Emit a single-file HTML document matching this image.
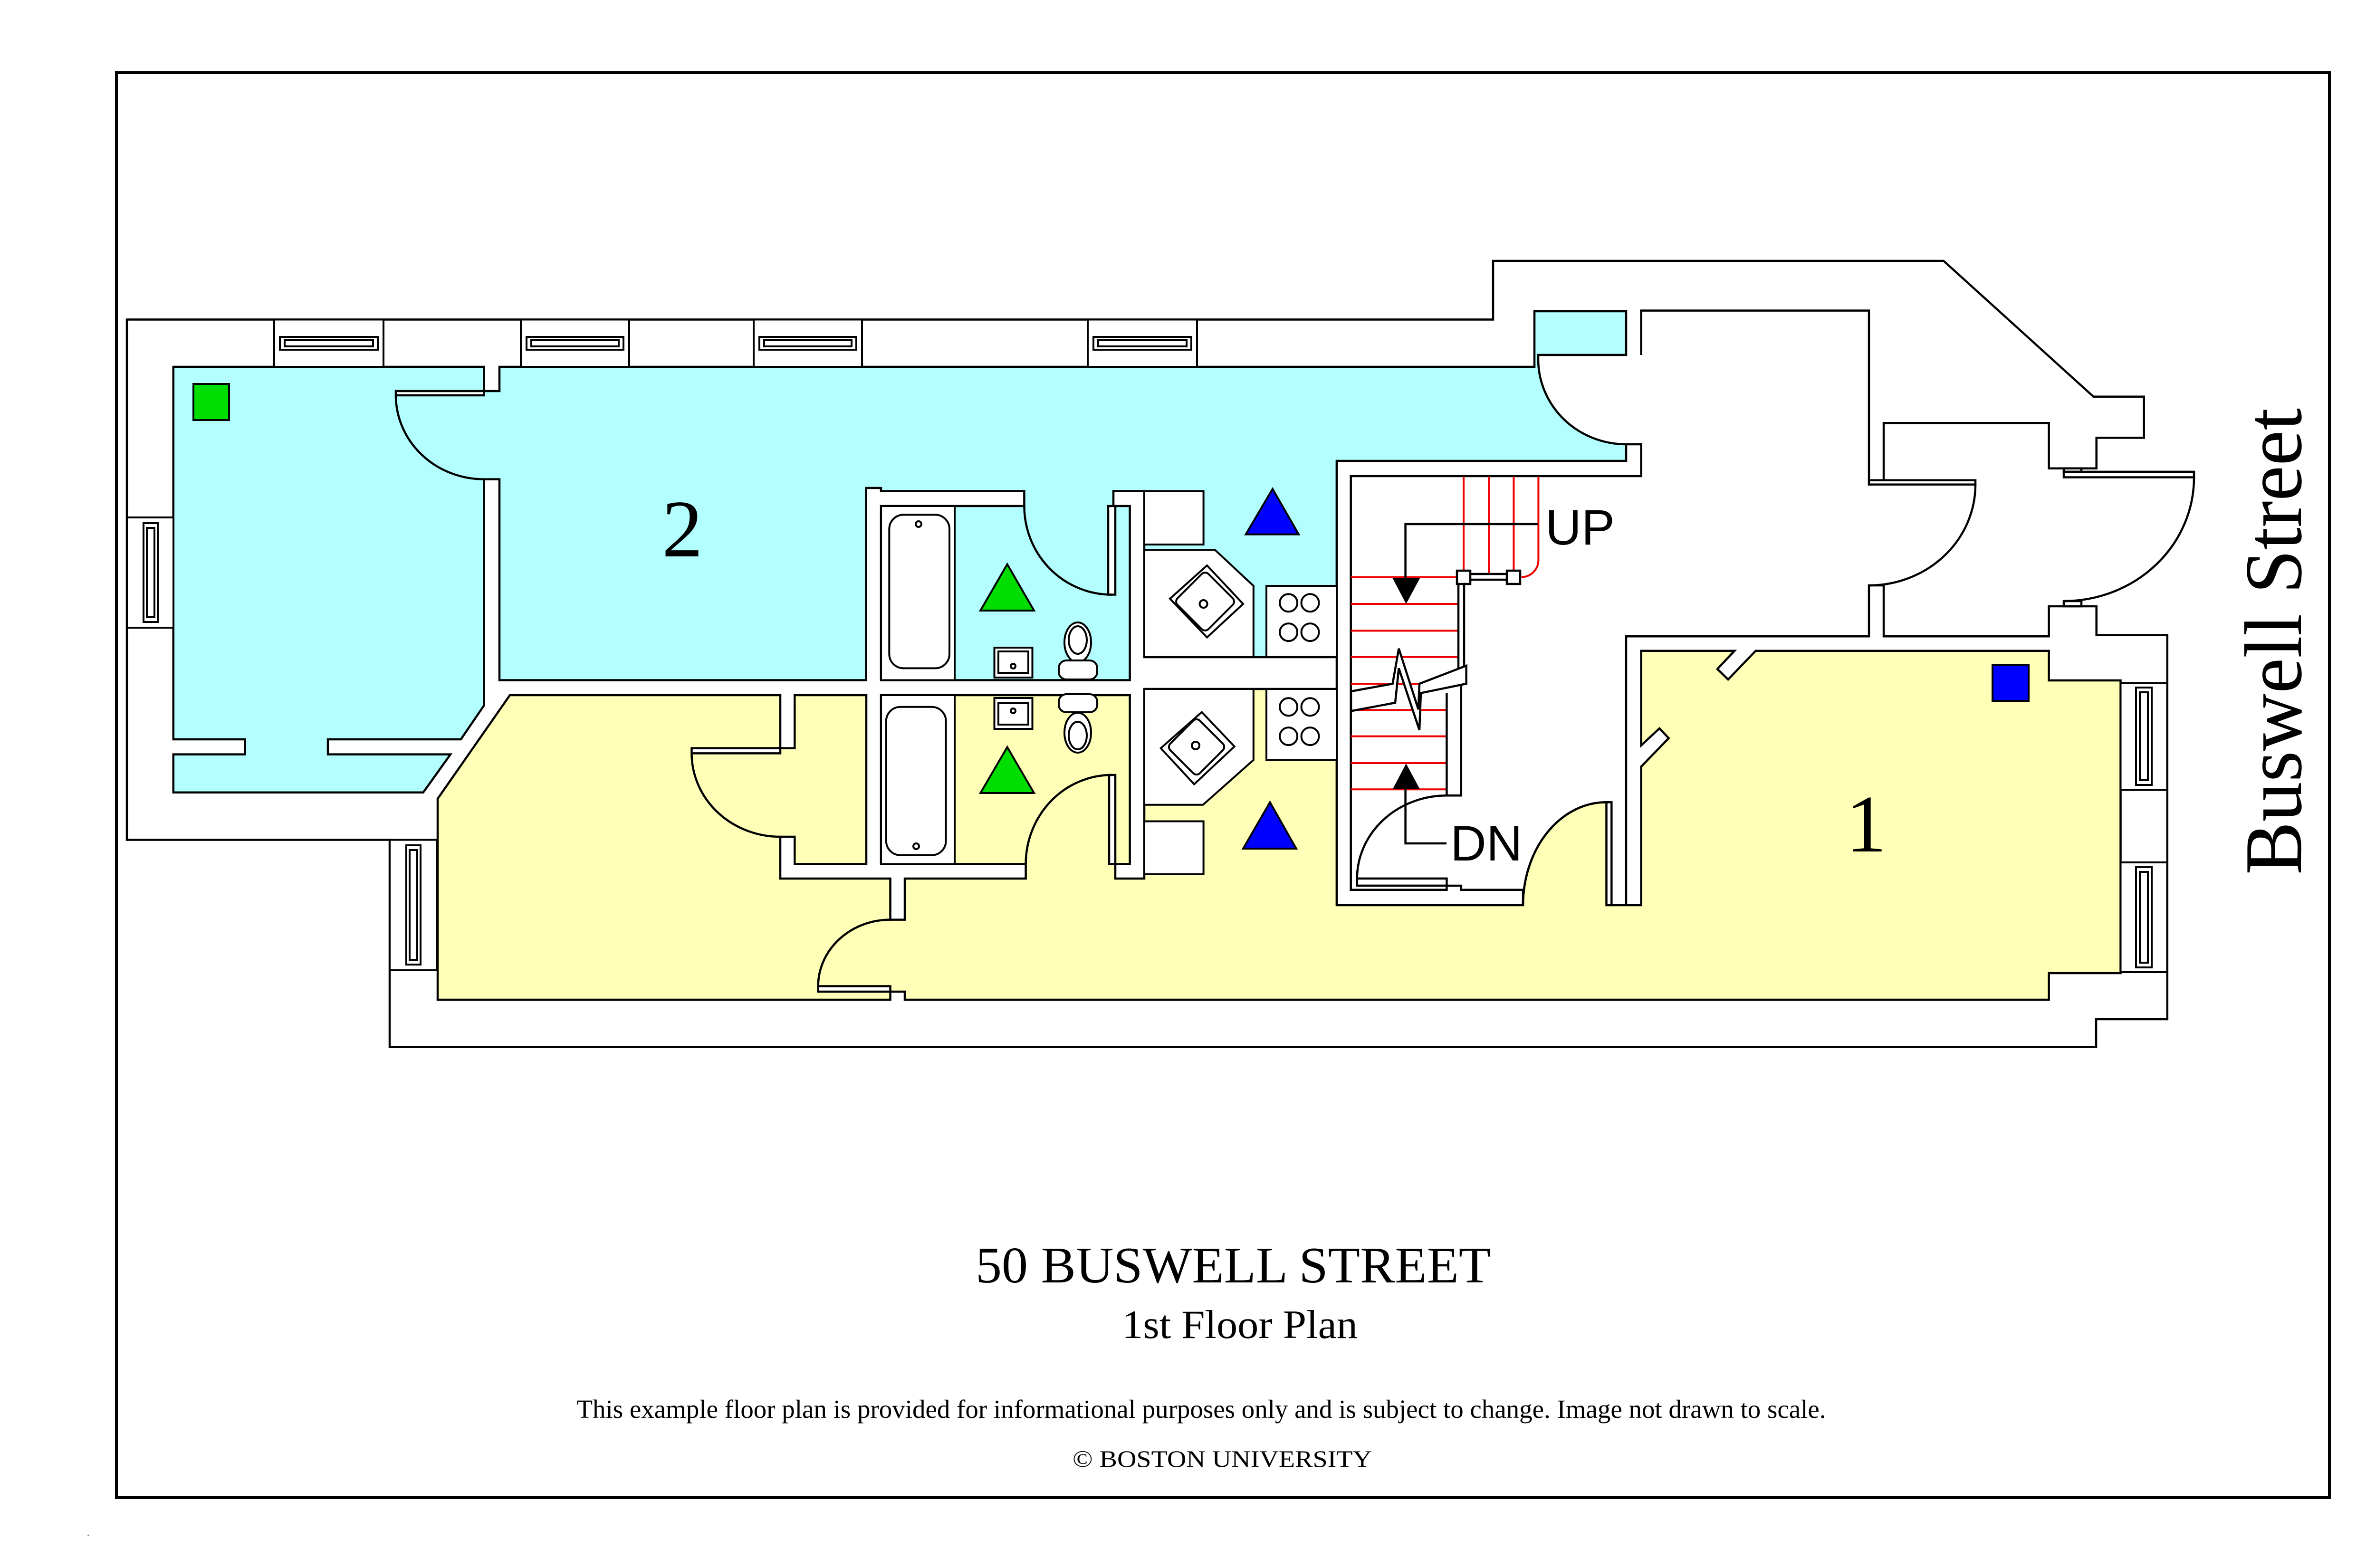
<!DOCTYPE html>
<html><head><meta charset="utf-8"><style>
html,body{margin:0;padding:0;background:#fff;}
svg{display:block;}
</style></head><body>
<svg width="5100" height="3300" viewBox="0 0 5100 3300" xmlns="http://www.w3.org/2000/svg">
<rect width="5100" height="3300" fill="#fff"/>
<rect x="245" y="153" width="4657" height="2999" fill="none" stroke="#000" stroke-width="6"/>

<g stroke="#000" stroke-width="4.5" stroke-linejoin="miter">
<!-- blue fill -->
<path fill="#b3ffff" d="M364.8,772 L1018.6,772 L1018.6,823 L1051,823 L1051,772 L3229,772 L3229,655 L3422,655 L3422,747 L3237,747 L3237,756 A185,179 0 0 0 3422,935 L3422,970 L2813,970 L2813,1383 L2408,1383 L2408,1033.5 L2343,1033.5 L2343,1065 L2377.6,1065 L2377.6,1431.5 L1854,1431.5 L1854,1065 L2155.4,1065 L2155.4,1033.5 L1854,1033.5 L1854,1027 L1822.5,1027 L1822.5,1431.5 L1051,1431.5 L1051,1008.6 L1018.6,1008.6 L1018.6,1484.6 L969.8,1556 L690,1556 L690,1587.6 L948,1587.6 L890.6,1667.8 L364.8,1667.8 L364.8,1587.6 L515.5,1587.6 L515.5,1556 L364.8,1556 Z"/>
<!-- yellow fill -->
<path fill="#ffffb8" d="M921,1681 L1073,1463 L1642,1463 L1642,1574.6 L1672.3,1574.6 L1672.3,1463 L1823,1463 L1823,1818.5 L1672.3,1818.5 L1672.3,1761 L1642,1761 L1642,1849 L1873.5,1849 L1873.5,1935.6 L1904,1935.6 L1904,1849 L2158.6,1849 L2158.6,1818.5 L1854,1818.5 L1854,1463 L2377.6,1463 L2377.6,1818.5 L2347,1818.5 L2347,1849 L2408,1849 L2408,1450 L2813,1450 L2813,1905 L3205,1905 A175,216.6 0 0 1 3380.5,1688.4 L3391,1688.4 L3391,1905 L3453.6,1905 L3453.6,1613.4 L3511.6,1553.6 L3492,1533 L3453.6,1568.8 L3453.6,1369.7 L3650,1369.7 L3614,1408 L3636.6,1430 L3694.6,1369.7 L4311.6,1369.7 L4311.6,1432 L4462.5,1432 L4462.5,2048 L4311.6,2048 L4311.6,2104 L1904,2104 L1904,2087 L1873.5,2087 L1873.5,2104 L921,2104 Z"/>
</g>

<g fill="none" stroke="#000" stroke-width="4.5">
<!-- outer building -->
<polyline points="3964,1010.7 3964,890.2 4311.6,890.2 4311.6,985.7 4411.7,985.7 4411.7,921.4 4511.7,921.4 4511.7,834.8 4405.4,834.8 4090,549 3142,549 3142,672.5 267,672.5 267,1767.5 820,1767.5 820,2203.4 4411,2203.4 4411,2145 4560.8,2145 4560.8,1336.6 4411.7,1336.6 4411.7,1276 4311.6,1276 4311.6,1339.3 3964,1339.3 3964,1232 3933,1232 3933,1339.3 3422,1339.3 3422,1905"/>
<polyline points="3453.6,747 3453.6,653.6 3933,653.6 3933,1010.7"/>
<polyline points="3422,935 3453.6,935 3453.6,1002 2842.7,1002 2842.7,1872.7 3044.4,1872.7 3044.4,1864 3074.8,1864 3074.8,1872.7 3205,1872.7 3205,1905"/>
<polyline points="2813,970 2813,1905"/>
<!-- hall doors -->
<rect x="3933" y="1010.7" width="224" height="9" fill="#fff"/>
<path d="M4157,1019.7 A224,212 0 0 1 3933,1232"/>
<rect x="4343" y="992.9" width="274" height="11.6" fill="#fff"/>
<rect x="4343" y="985.7" width="37" height="7.2"/>
<path d="M4617,1004.5 A274,260 0 0 1 4343,1265"/>
<rect x="4343" y="1265" width="37" height="11"/>
<!-- room1 door -->
<path d="M3205,1905 A175,216.6 0 0 1 3380.5,1688.4"/>
<rect x="3380.5" y="1688.4" width="10.8" height="216.6" fill="#fff"/>
<!-- room2 door -->
<rect x="833" y="823" width="185.6" height="9" fill="#fff"/>
<path d="M833,832 A185.6,176.6 0 0 0 1018.6,1008.6"/>
<!-- closet door -->
<rect x="1455.5" y="1574.6" width="186.5" height="10.8" fill="#fff"/>
<path d="M1455.5,1585.4 A186.5,175.6 0 0 0 1642,1761"/>
<!-- bottom door -->
<rect x="1721.7" y="2075.5" width="151.8" height="11.5" fill="#fff"/>
<path d="M1721.7,2075.5 A151.8,140 0 0 1 1873.5,1935.6"/>
<!-- bath doors -->
<rect x="2332" y="1065" width="15" height="186.5" fill="#fff"/>
<path d="M2155.4,1065 A184,186.5 0 0 0 2339.5,1251.5"/>
<rect x="2334" y="1631" width="13" height="187.5" fill="#fff"/>
<path d="M2158.6,1818.5 A181,187.5 0 0 1 2340,1631"/>
</g>

<!-- fixtures -->
<g fill="#fff" stroke="#000" stroke-width="4">
<rect x="1854" y="1065" width="155" height="366.5"/>
<rect x="1871.3" y="1083.4" width="126.7" height="323" rx="30"/>
<rect x="1854" y="1463" width="155" height="355.5"/>
<rect x="1864.8" y="1487.8" width="125.8" height="312" rx="30"/>
<circle cx="1933" cy="1103" r="6"/>
<circle cx="1928" cy="1781" r="6"/>
<rect x="2092.5" y="1363" width="80" height="63"/>
<rect x="2101" y="1371" width="63" height="45"/>
<circle cx="2132" cy="1402" r="5"/>
<rect x="2092.5" y="1469" width="80" height="65"/>
<rect x="2101" y="1480" width="63" height="45"/>
<circle cx="2132" cy="1496" r="5"/>
<ellipse cx="2268" cy="1352" rx="28" ry="42"/>
<ellipse cx="2268" cy="1347" rx="19" ry="29"/>
<rect x="2228" y="1390" width="81" height="40" rx="16"/>
<rect x="2228" y="1461" width="81" height="38" rx="16"/>
<ellipse cx="2268" cy="1542" rx="28" ry="42"/>
<ellipse cx="2268" cy="1548" rx="19" ry="29"/>
<!-- kitchen -->
<rect x="2408" y="1033.5" width="124.6" height="112.5"/>
<polygon points="2408,1157 2556.5,1157 2637.8,1233 2637.8,1382.7 2408,1382.7"/>
<rect x="2665" y="1233" width="148" height="149.7"/>
<polygon points="2408,1450 2637.8,1450 2637.8,1599.5 2531.5,1693.8 2408,1693.8"/>
<rect x="2665" y="1450" width="148" height="149.5"/>
<rect x="2408" y="1728.5" width="124.6" height="111.5"/>
<polygon points="2540,1190 2616,1271 2540,1341.5 2462,1260"/>
<rect x="2490" y="1220" width="92" height="92" rx="10" transform="rotate(45 2536 1266) scale(1)" />
<polygon points="2529,1498.7 2597.7,1571 2513,1650.5 2442.7,1574.6"/>
<rect x="2474" y="1528" width="88" height="88" rx="10" transform="rotate(45 2518 1572)"/>
<circle cx="2532.6" cy="1271" r="8"/>
<circle cx="2516" cy="1569" r="8"/>
<circle cx="2711.6" cy="1268.8" r="18.5"/><circle cx="2757" cy="1268.8" r="18.5"/>
<circle cx="2711.6" cy="1330.6" r="18.5"/><circle cx="2757" cy="1330.6" r="18.5"/>
<circle cx="2711.6" cy="1487.8" r="18.5"/><circle cx="2757" cy="1487.8" r="18.5"/>
<circle cx="2711.6" cy="1549.6" r="18.5"/><circle cx="2757" cy="1549.6" r="18.5"/>
</g>

<!-- windows -->
<g fill="#fff" stroke="#000" stroke-width="4">
<rect x="577" y="672.5" width="230" height="99.5"/><rect x="589" y="709" width="206" height="27"/><rect x="599" y="716" width="186" height="13"/>
<rect x="1096" y="672.5" width="228" height="99.5"/><rect x="1108" y="709" width="204" height="27"/><rect x="1118" y="716" width="184" height="13"/>
<rect x="1586" y="672.5" width="228" height="99.5"/><rect x="1598" y="709" width="204" height="27"/><rect x="1608" y="716" width="184" height="13"/>
<rect x="2289" y="672.5" width="230" height="99.5"/><rect x="2301" y="709" width="206" height="27"/><rect x="2311" y="716" width="186" height="13"/>
<rect x="267" y="1089" width="98" height="232"/><rect x="302" y="1101" width="30" height="208"/><rect x="309" y="1111" width="16" height="188"/>
<rect x="820" y="1767.5" width="99" height="274.5"/><rect x="855" y="1779" width="30" height="251"/><rect x="862" y="1789" width="16" height="231"/>
<rect x="4462.5" y="1437.5" width="98" height="225"/><rect x="4495" y="1447" width="33" height="205"/><rect x="4503" y="1457" width="17" height="185"/>
<rect x="4462.5" y="1815" width="98" height="231"/><rect x="4495" y="1825" width="33" height="211"/><rect x="4503" y="1835" width="17" height="191"/>
</g>

<!-- stairs -->
<g stroke="#e00" stroke-width="4" fill="none">
<line x1="2843" y1="1214.6" x2="3069" y2="1214.6"/><line x1="2843" y1="1271" x2="3069" y2="1271"/>
<line x1="2843" y1="1327.4" x2="3069" y2="1327.4"/><line x1="2843" y1="1382.7" x2="3069" y2="1382.7"/>
<line x1="2843" y1="1439" x2="3044" y2="1439"/><line x1="2843" y1="1494.3" x2="3044" y2="1494.3"/>
<line x1="2843" y1="1549.6" x2="3044" y2="1549.6"/><line x1="2843" y1="1606" x2="3044" y2="1606"/>
<line x1="2843" y1="1661.3" x2="3044" y2="1661.3"/>
<line x1="3080" y1="1003" x2="3080" y2="1214.6"/><line x1="3133.3" y1="1003" x2="3133.3" y2="1214.6"/>
<line x1="3185.4" y1="1003" x2="3185.4" y2="1214.6"/>
<path d="M3237.4,1003 V1178.8 A36,36 0 0 1 3201.6,1214.6"/>
</g>
<g stroke="#000" stroke-width="4.5" fill="#fff">
<polyline fill="none" points="3044.4,1458 3044.4,1674.3 3074.8,1674.3 3074.8,1420"/>
<rect x="3069" y="1229" width="12" height="180"/>
<polygon points="2843,1455 2930.6,1439 2943.6,1365 2984.8,1493 2987,1439 3085.6,1401 3085.6,1439 2990,1458.6 2987,1536.6 2943.6,1406.5 2936,1479 2843,1496.5"/>
<rect x="3086" y="1208" width="94" height="12"/>
<rect x="3066" y="1201" width="28" height="28"/>
<rect x="3171" y="1201" width="28" height="28"/>
<polyline fill="none" points="2957.6,1217 2957.6,1103 3237,1103"/>
<polyline fill="none" points="2957.6,1661 2957.6,1775 3044,1775"/>
<rect x="2855.7" y="1848.9" width="188.7" height="15" />
<path fill="none" d="M2855.7,1848.9 A188.7,175 0 0 1 3044.4,1674.3"/>
</g>
<polygon points="2930.6,1217 2988,1217 2959,1271" fill="#000"/>
<polygon points="2930.6,1661 2988,1661 2959,1607" fill="#000"/>
<text x="3252" y="1146" font-family="Liberation Sans, sans-serif" font-size="105" fill="#000">UP</text>
<text x="3052" y="1811" font-family="Liberation Sans, sans-serif" font-size="105" fill="#000">DN</text>

<!-- markers -->
<g stroke="#000" stroke-width="4">
<rect x="407" y="808" width="75" height="76" fill="#00dd00"/>
<rect x="4193" y="1399" width="76" height="76" fill="#0000ff"/>
<polygon points="2678,1029 2621.6,1124.6 2733,1124.6" fill="#0000ff"/>
<polygon points="2672.5,1688.4 2616,1786 2727.8,1786" fill="#0000ff"/>
<polygon points="2119.6,1187.5 2063.2,1285 2176,1285" fill="#00dd00"/>
<polygon points="2119.6,1572.4 2063.2,1669 2176,1669" fill="#00dd00"/>
</g>

<g font-family="Liberation Serif, serif" fill="#000">
<text x="1436" y="1171" font-size="172" text-anchor="middle">2</text>
<text x="3927" y="1792" font-size="172" text-anchor="middle">1</text>
<text transform="translate(4842,1350) rotate(-90)" font-size="172" text-anchor="middle" textLength="982" lengthAdjust="spacingAndGlyphs">Buswell Street</text>
<text x="2595" y="2699" font-size="108" text-anchor="middle" textLength="1084" lengthAdjust="spacingAndGlyphs">50 BUSWELL STREET</text>
<text x="2609" y="2816" font-size="85" text-anchor="middle" textLength="496" lengthAdjust="spacingAndGlyphs">1st Floor Plan</text>
<text x="2528" y="2984" font-size="55" text-anchor="middle" textLength="2629" lengthAdjust="spacingAndGlyphs">This example floor plan is provided for informational purposes only and is subject to change. Image not drawn to scale.</text>
<text x="2572" y="3087" font-size="50" text-anchor="middle" textLength="630" lengthAdjust="spacingAndGlyphs">© BOSTON UNIVERSITY</text>
<text x="183" y="3232" font-size="20">.</text>
</g>
</svg>
</body></html>
